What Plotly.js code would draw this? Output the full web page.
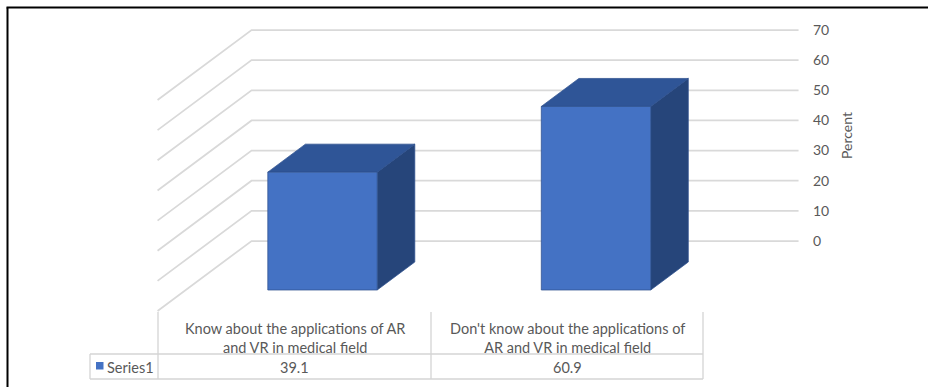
<!DOCTYPE html>
<html>
<head>
<meta charset="utf-8">
<script src="https://cdn.plot.ly/plotly-3.0.1.min.js"></script>
<style>
  html, body { margin: 0; padding: 0; background: #ffffff; }
  #chart { width: 928px; height: 387px; }
</style>
</head>
<body>
<div id="chart"></div>
<script>
// ---- data ----
const categories = [
  "Know about the applications of AR<br>and VR in medical field",
  "Don't know about the applications of<br>AR and VR in medical field"
];
const seriesName = "Series1";
const values = [39.1, 60.9];
const tickValues = [0, 10, 20, 30, 40, 50, 60, 70];
const axisTitle = "Percent";

// ---- geometry of the oblique 3-D view ----
const W = 928, H = 387;
const plotRight = 799;          // px, right edge of the back wall
const zeroPx = 241;             // px, value 0 on the back wall
const pxPerVal = 3.014;         // px per percent
const catPx0 = 388.3;           // px, first category centre on the back wall
const pxPerCat = 273.5;         // px per category step
const depthDX = 94 / pxPerCat;  // x shift (category units) from back to front
const depthDY = 70 / pxPerVal;  // y shift (value units) from back to front
const barHalfWidth = 0.2;       // half bar width, category units
const barDepth = [0.3, 0.7];    // bar front / back as fraction of floor depth
const wall = [-0.5, 1.5];       // back wall extent, category units

const xRange = [-catPx0 / pxPerCat, (plotRight - catPx0) / pxPerCat];
const yRange = [-(H - zeroPx) / pxPerVal, zeroPx / pxPerVal];

// project a point (x along categories, v value, d depth 0=front..1=back)
function proj(x, v, d) {
  return [x + (d - 1) * depthDX, v + (d - 1) * depthDY];
}

// ---- wall grid: side-wall diagonal + back-wall horizontal per tick ----
const gx = [], gy = [];
tickValues.forEach(t => {
  const a = proj(wall[0], t, 0), b = proj(wall[0], t, 1), c = proj(wall[1], t, 1);
  gx.push(a[0], b[0], c[0], null);
  gy.push(a[1], b[1], c[1], null);
});

// ---- bar faces ----
const frontFaces = {x: [], y: []}, topFaces = {x: [], y: []}, sideFaces = {x: [], y: []};
function addPoly(target, pts) {
  pts.forEach(p => { target.x.push(p[0]); target.y.push(p[1]); });
  target.x.push(pts[0][0], null); target.y.push(pts[0][1], null);
}
values.forEach((v, i) => {
  const x0 = i - barHalfWidth, x1 = i + barHalfWidth;
  const d0 = barDepth[0], d1 = barDepth[1];
  addPoly(frontFaces, [proj(x0, 0, d0), proj(x1, 0, d0), proj(x1, v, d0), proj(x0, v, d0)]);
  addPoly(topFaces,   [proj(x0, v, d0), proj(x1, v, d0), proj(x1, v, d1), proj(x0, v, d1)]);
  addPoly(sideFaces,  [proj(x1, 0, d0), proj(x1, 0, d1), proj(x1, v, d1), proj(x1, v, d0)]);
});

const txtColor = "#595959";
const font = "Lato, 'Open Sans', sans-serif";
const seriesColor = "#4472C4";

function face(f, color) {
  return {
    type: "scatter", mode: "lines", x: f.x, y: f.y,
    fill: "toself", fillcolor: color,
    line: {color: "#2F528F", width: 0.75},
    hoverinfo: "skip", showlegend: false
  };
}

const traces = [
  {
    type: "scatter", mode: "lines", x: gx, y: gy,
    line: {color: "#d9d9d9", width: 1.75},
    hoverinfo: "skip", showlegend: false
  },
  face(sideFaces, "#26457A"),
  face(topFaces, "#2F5597"),
  face(frontFaces, seriesColor)
];

// ---- data table under the chart (pixel layout -> paper coords) ----
const px = x => x / plotRight;
const py = y => (H - y) / H;
const tbl = {left: 90, colX: [158, 431, 703], top: 312, mid: 354, bottom: 379};
const gridLine = {color: "#d4d4d4", width: 1.3};
const shapes = [];
function seg(x0, y0, x1, y1, line) {
  shapes.push({type: "line", xref: "paper", yref: "paper",
               x0: px(x0), y0: py(y0), x1: px(x1), y1: py(y1), line: line});
}
tbl.colX.forEach(x => seg(x, tbl.top, x, tbl.bottom, gridLine));
seg(tbl.left, tbl.mid, tbl.left, tbl.bottom, gridLine);
seg(tbl.left, tbl.mid, tbl.colX[2], tbl.mid, gridLine);
seg(tbl.left, tbl.bottom, tbl.colX[2], tbl.bottom, gridLine);
// legend key of the series row
shapes.push({type: "rect", xref: "paper", yref: "paper",
             x0: px(96), x1: px(103.5), y0: py(369.5), y1: py(362),
             fillcolor: seriesColor, line: {width: 0}});
// outer frame
seg(7.5, H + 4, 7.5, 7.5, {color: "#000000", width: 2});
seg(6.5, 7.5, W + 4, 7.5, {color: "#000000", width: 2});

const cellFont = {family: font, size: 14.5, color: txtColor};
const annotations = [{
  text: axisTitle, textangle: -90, showarrow: false,
  xref: "paper", yref: "paper",
  x: px(846), y: py(136), xanchor: "center", yanchor: "middle",
  font: {family: font, size: 14, color: txtColor}
}, {
  text: seriesName, showarrow: false, xref: "paper", yref: "paper",
  x: px(105), y: py(367), xanchor: "left", yanchor: "middle", font: cellFont
}];
categories.forEach((c, i) => {
  const cx = (tbl.colX[i] + tbl.colX[i + 1]) / 2;
  annotations.push({
    text: c, showarrow: false, align: "center", xref: "paper", yref: "paper",
    x: px(cx), y: py(337.5), xanchor: "center", yanchor: "middle", font: cellFont
  });
  annotations.push({
    text: values[i].toFixed(1), showarrow: false, xref: "paper", yref: "paper",
    x: px(cx), y: py(367), xanchor: "center", yanchor: "middle", font: cellFont
  });
});

const layout = {
  width: W, height: H,
  margin: {l: 0, r: W - plotRight, t: 0, b: 0, pad: 0},
  paper_bgcolor: "#ffffff",
  plot_bgcolor: "rgba(0,0,0,0)",
  showlegend: false,
  xaxis: {range: xRange, visible: false, fixedrange: true},
  yaxis: {
    range: yRange, side: "right", tickmode: "array", tickvals: tickValues,
    showgrid: false, zeroline: false, showline: false, ticks: "",
    ticklabelstandoff: 13,
    tickfont: {family: font, size: 14, color: txtColor},
    fixedrange: true
  },
  annotations: annotations,
  shapes: shapes
};

Plotly.newPlot("chart", traces, layout, {displayModeBar: false, staticPlot: true});
</script>
</body>
</html>
